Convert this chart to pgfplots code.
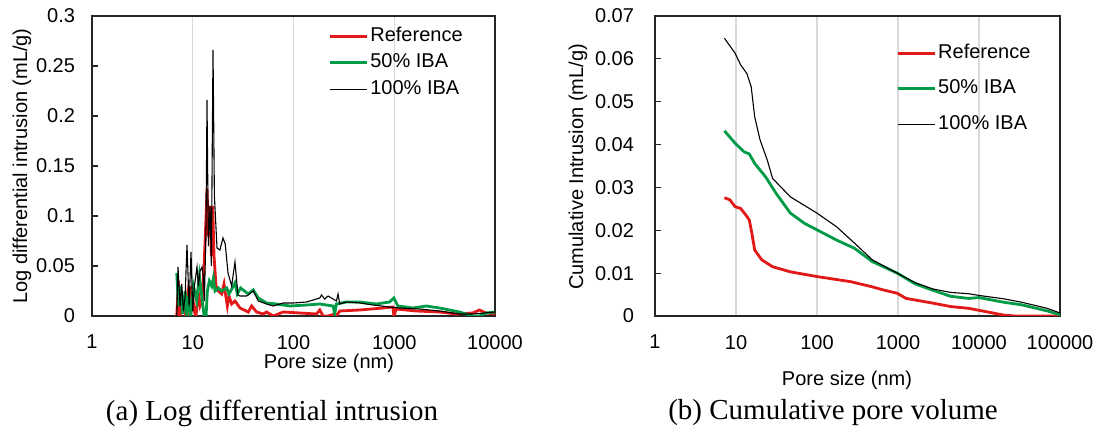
\documentclass[border=0pt]{standalone}
\usepackage{pgfplots}
\pgfplotsset{compat=1.18}
\usepackage{fontspec}
\setmainfont{Liberation Sans}
\newfontfamily\timesfont{Liberation Serif}
\definecolor{cred}{RGB}{225,25,25}
\definecolor{cgreen}{RGB}{0,155,70}
\pgfplotsset{
  myax/.style={
    scale only axis, ymin=0, scaled y ticks=false,
    axis line style={black!85, line width=0.6pt},
    xmajorgrids=true, xminorticks=false, yminorticks=false,
    grid style={black!15, line width=0.6pt},
    tick align=inside, ytick pos=left, xtick pos=bottom,
    major tick length=3pt,
    x tick style={draw=none},
    y tick style={black!85, line width=0.6pt},
    tick label style={font=\fontsize{10}{12}\selectfont},
    xticklabel style={yshift=-6pt},
    legend cell align=left,
  }
}
\begin{document}
\begin{tikzpicture}
\path[use as bounding box] (0,0) rectangle (548.5pt,216pt);
% ---------- (a) ----------
\begin{axis}[xmode=log, myax, at={(46pt,58pt)}, anchor=south west,
  width=201.5pt, height=150pt,
  xmin=1, xmax=10000, ymax=0.3,
  xtick={1,10,100,1000,10000}, xticklabels={1,10,100,1000,10000},
  ytick={0,0.05,0.1,0.15,0.2,0.25,0.3},
  yticklabels={0,0.05,0.1,0.15,0.2,0.25,0.3},
  yticklabel style={xshift=-5pt},
  legend image code/.code={\draw[#1] (0pt,0pt) -- (18.5pt,0pt);},
  legend style={at={(0.586,0.971)}, anchor=north west, draw=none, fill=none,
    inner sep=0pt, row sep=2pt, font=\fontsize{10}{12}\selectfont,
    nodes={inner sep=1pt, text height=7.2pt, text depth=2pt}},
]
\addplot[cred, line width=1.4pt] coordinates {
(6.94,0) (7.21,0.035) (7.49,0) (7.78,0.010) (8.08,0.015) (8.46,0) (8.86,0.020)
(9.27,0.005) (9.77,0.030) (10.31,0.005) (10.79,0) (11.29,0.025) (11.82,0.010)
(12.37,0.015) (12.95,0.050) (13.45,0.090) (13.87,0.127) (14.29,0.080) (14.85,0.110)
(15.30,0.060) (15.78,0.110) (16.26,0.060) (17.02,0.030) (17.95,0.025) (19.37,0.022)
(20.43,0.032) (20.9,0.025) (22.04,0.010) (22.89,0.020) (24.33,0.012) (26.25,0.015)
(29.42,0.008) (35.6,0.004) (38.4,0.010) (43.0,0.004) (50.1,0.002) (54.0,0.004)
(62.9,0) (79.0,0.004) (115.5,0.003) (169,0.002) (182.3,0.006) (196.7,0) (220.4,0)
(256.6,0.002) (266.6,0) (287.6,0.005) (453.8,0.006) (772,0.008) (970,0.009) (992,0)
(1047,0.007) (1651,0.005) (2811,0.004) (4110,0.002) (6009,0.003) (7000,0.006)
(8145,0.003) (10000,0.002)
};
\addlegendentry{Reference}
\addplot[cgreen, line width=1.4pt] coordinates {
(6.94,0.043) (7.21,0.010) (7.49,0.030) (7.96,0.002) (8.40,0.025) (8.72,0) (9.06,0.020)
(9.55,0) (10.15,0.030) (10.95,0.015) (11.64,0.040) (12.28,0.020) (12.95,0) (13.55,0)
(13.97,0.025) (14.62,0.035) (15.42,0.030) (16.02,0.038) (16.64,0.025) (17.95,0.028)
(19.37,0.025) (21.71,0.028) (22.89,0.022) (26.25,0.033) (27.68,0.022) (29.87,0.028)
(35.6,0.022) (39.88,0.026) (44.7,0.018) (54.0,0.013) (67.9,0.012) (91.9,0.010)
(134.5,0.011) (182.3,0.012) (247.0,0.010) (256.6,0.002) (266.6,0.012) (334.8,0.014)
(453.8,0.014) (663,0.012) (899,0.014) (992,0.018) (1087,0.010) (1530,0.008)
(2074,0.010) (2811,0.008) (4437,0.004) (6009,0) (7000,0) (8145,0.003) (10000,0.004)
};
\addlegendentry{50\% IBA}
\addplot[black, line width=0.55pt] coordinates {
(6.94,0) (7.14,0.049) (7.49,0.010) (7.78,0.032) (8.08,0.005) (8.40,0.020) (8.77,0.071)
(9.20,0.010) (9.61,0.064) (10.0,0.005) (10.39,0.030) (11.02,0.049) (11.38,0.030)
(11.82,0.045) (12.36,0.049) (12.75,0.040) (13.05,0.015) (13.55,0.090) (13.85,0.216)
(14.29,0.070) (14.85,0.110) (15.30,0.050) (15.89,0.266) (16.40,0.120) (17.41,0.068)
(18.6,0.066) (19.96,0.078) (21.0,0.072) (22.39,0.043) (24.33,0.030) (26.25,0.054)
(28.1,0.021) (29.42,0.020) (34.25,0.020) (39.88,0.025) (44.7,0.015) (54.0,0.012)
(62.9,0.010) (79.0,0.013) (99.2,0.013) (134.5,0.014) (182.3,0.018) (189.4,0.021)
(204.3,0.017) (220.4,0.020) (247.0,0.017) (266.6,0.015) (276.8,0.022) (287.6,0.012)
(334.8,0.014) (453.8,0.013) (615,0.011) (899,0.009) (1129,0.008) (1782,0.007)
(2811,0.005) (4437,0.002) (6009,0.002) (10000,0.004)
};
\addlegendentry{100\% IBA}
\end{axis}
% ---------- (b) ----------
\begin{axis}[xmode=log, myax, at={(327.5pt,58pt)}, anchor=south west,
  width=202.5pt, height=150pt,
  xmin=1, xmax=100000, ymax=0.07,
  xtick={1,10,100,1000,10000,100000}, xticklabels={1,10,100,1000,10000,100000},
  ytick={0,0.01,0.02,0.03,0.04,0.05,0.06,0.07},
  yticklabels={0,0.01,0.02,0.03,0.04,0.05,0.06,0.07},
  yticklabel style={xshift=-7pt},
  legend image code/.code={\draw[#1] (0pt,0pt) -- (18.5pt,0pt);},
  legend style={at={(0.595,0.914)}, anchor=north west, draw=none, fill=none,
    inner sep=0pt, row sep=6.5pt, font=\fontsize{10}{12}\selectfont,
    nodes={inner sep=1pt, text height=7.2pt, text depth=2pt}},
]
\addplot[cred, line width=1.4pt] coordinates {
(7.2,0.0276) (8.4,0.0271) (9.76,0.0255) (11.4,0.0251) (13.2,0.0236) (14.6,0.0224)
(15.7,0.0193) (17.0,0.0154) (20.8,0.0131) (28.3,0.0115) (46.9,0.0103) (100,0.0092)
(262,0.0080) (482,0.0068) (652,0.0061) (977,0.0053) (1260,0.0041) (2700,0.0030)
(4470,0.0022) (7400,0.0018) (12300,0.0010) (20300,0.0002) (27700,0) (100000,0)
};
\addlegendentry{Reference}
\addplot[cgreen, line width=1.4pt] coordinates {
(7.2,0.0432) (9.76,0.0403) (12.6,0.0383) (14.6,0.0378) (17.0,0.0356) (23.1,0.0325)
(31.3,0.0286) (46.9,0.0240) (70.3,0.0216) (100,0.0201) (175,0.0177) (290,0.0158)
(482,0.0127) (977,0.0100) (1626,0.0075) (2700,0.0060) (4470,0.0046) (7400,0.0041)
(10000,0.0043) (20300,0.0032) (33800,0.0026) (69000,0.0012) (100000,0.0003)
};
\addlegendentry{50\% IBA}
\addplot[black, line width=0.55pt] coordinates {
(7.2,0.0648) (9.76,0.0613) (11.4,0.0586) (13.6,0.0566) (15.4,0.0535) (17.0,0.0465)
(19.8,0.0411) (24.3,0.0364) (28.3,0.0321) (46.9,0.0278) (100,0.0240) (175,0.0208)
(290,0.0170) (482,0.0131) (977,0.0100) (1626,0.0078) (2700,0.0063) (4470,0.0055)
(7400,0.0052) (10000,0.0048) (20300,0.0040) (33800,0.0032) (69000,0.0018) (100000,0.0007)
};
\addlegendentry{100\% IBA}
\end{axis}
% ---------- labels ----------
\node[rotate=90, font=\fontsize{10}{12}\selectfont] at (11pt,133pt) {Log differential intrusion (mL/g)};
\node[rotate=90, font=\fontsize{10}{12}\selectfont] at (289pt,132.5pt) {Cumulative Intrusion (mL/g)};
\node[font=\fontsize{10}{12}\selectfont] at (164.5pt,34.5pt) {Pore size (nm)};
\node[font=\fontsize{10}{12}\selectfont] at (423.5pt,26pt) {Pore size (nm)};
\node[font=\timesfont\fontsize{14.5}{17}\selectfont] at (136pt,9.5pt) {(a) Log differential intrusion};
\node[font=\timesfont\fontsize{14.5}{17}\selectfont] at (416.5pt,9.5pt) {(b) Cumulative pore volume};
\end{tikzpicture}
\end{document}
